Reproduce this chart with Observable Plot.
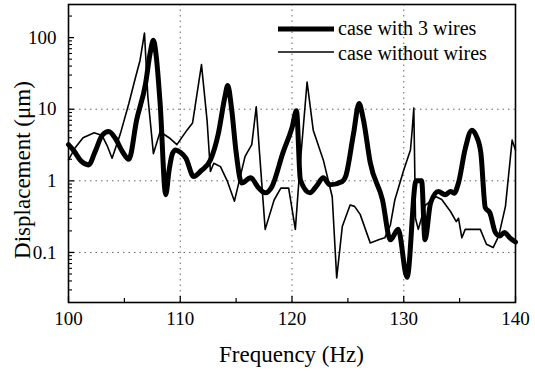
<!DOCTYPE html>
<html><head><meta charset="utf-8">
<script src="https://cdn.jsdelivr.net/npm/d3@7"></script>
<script src="https://cdn.jsdelivr.net/npm/@observablehq/plot@0.6"></script>
<style>
body{margin:0;background:#fff;}
#chart svg, #chart svg text{font-family:'Liberation Serif','Tinos','Times New Roman','DejaVu Serif','Noto Serif',serif !important;}
</style>
</head><body><div id="chart"></div>
<script>
// Series: case with 3 wires
const freqWith = [100.0,100.5,101.1,101.8,102.4,103.0,103.6,104.2,104.8,105.4,106.1,106.9,107.3,107.6,107.85,108.2,108.7,109.0,109.3,109.6,110.0,110.5,111.2,111.9,112.7,113.4,114.0,114.25,114.6,115.0,115.5,116.3,117.0,117.6,118.2,119.2,120.0,120.4,120.75,121.6,122.2,122.8,123.4,124.5,124.8,125.5,126.0,126.4,127.0,128.1,128.8,129.5,130.3,131.1,131.6,131.9,132.4,133.1,133.7,134.2,134.5,134.9,135.5,136.1,136.5,136.9,137.3,137.7,138.2,138.6,139.0,139.5,140.0];
const dispWith = [3.2,2.6,1.9,1.67,2.6,4.3,4.9,3.9,2.6,2.0,7.1,23,60,92,55,12,0.64,1.4,2.4,2.7,2.5,2.07,1.15,1.4,1.95,4.5,15,21.5,10,2.5,0.93,1.1,0.8,0.68,0.83,2.5,5.5,9.5,1.03,0.68,0.85,1.1,0.88,0.98,1.15,4.5,12,7,1.8,0.54,0.15,0.21,0.045,1.0,1.0,0.15,0.49,0.71,0.64,0.71,0.67,0.94,2.8,5.1,4.2,2.45,0.42,0.36,0.19,0.17,0.19,0.16,0.14];
// Series: case without wires
const freqWithout = [100.0,100.6,101.3,102.3,103.0,103.5,103.9,104.65,105.4,106.0,106.4,106.8,107.1,107.6,108.2,109.0,109.7,110.6,111.1,111.9,112.4,112.7,113.0,113.6,114.2,114.85,115.8,116.4,116.8,117.1,117.6,118.4,119.0,119.7,120.3,120.7,121.35,121.9,122.8,123.6,124.0,124.5,125.2,125.6,126.1,127.0,127.75,128.3,128.8,129.2,130.0,130.6,130.75,130.9,131.05,131.3,131.9,132.9,133.4,134.2,134.7,134.9,135.2,135.5,136.85,137.4,138.0,138.5,139.1,139.7,140.0];
const dispWithout = [1.96,2.9,4.0,4.7,4.3,3.0,2.07,4.6,12,28,48,116,15,2.4,4.85,4.0,3.2,5.1,6.4,42,7,1.35,1.76,1.58,1.0,0.52,2.2,3.2,10.8,2.4,0.21,0.54,0.79,0.79,0.21,1.5,24,5.1,1.96,0.6,0.044,0.23,0.46,0.44,0.34,0.136,0.15,0.16,0.24,0.54,1.42,2.7,5.0,10.4,0.3,0.21,0.45,0.6,0.55,0.37,0.27,0.3,0.16,0.21,0.21,0.13,0.117,0.17,0.44,3.7,2.7];
const seriesNames = ["case with 3 wires","case without wires"];
const xTicks = [100,110,120,130,140];
const xMinorTicks = [105,115,125,135];
const yTicks = [0.1,1,10,100];
const yTickLabels = ["0.1","1","10","100"];
const xGrid = [110,120,130];
const yGrid = [0.1,1,10];
const xTitle = "Frequency (Hz)";
const yTitle = "Displacement (\u03bcm)";

const withData = freqWith.map((f,i)=>({f, d: dispWith[i]}));
const withoutData = freqWithout.map((f,i)=>({f, d: dispWithout[i]}));
const yMinorTicks = [];
for (const dec of [0.01,0.1,1,10,100]) for (let k=2;k<=9;k++){const v=+(dec*k).toPrecision(3); if(v>0.02&&v<290) yMinorTicks.push(v);}

const W=535,H=371,mL=68,mR=20,mT=4,mB=69;
const fw=W-mL-mR, fh=H-mT-mB;

const chart = Plot.plot({
  width:W, height:H,
  marginLeft:mL, marginRight:mR, marginTop:mT, marginBottom:mB,
  x:{domain:[100,140]},
  y:{type:"log", domain:[0.02,290]},
  style:{fontSize:"19px", color:"#000", background:"#fff"},
  marks:[
    Plot.ruleX(xGrid, {x:d=>d, stroke:"#666", strokeWidth:1, strokeDasharray:"1.5,4"}),
    Plot.ruleY(yGrid, {y:d=>d, stroke:"#666", strokeWidth:1, strokeDasharray:"1.5,4"}),
    Plot.line(withoutData, {x:"f", y:"d", stroke:"#000", strokeWidth:1.6, strokeLinejoin:"round"}),
    Plot.line(withData, {x:"f", y:"d", stroke:"#000", strokeWidth:5, strokeLinejoin:"round", strokeLinecap:"round", curve:"monotone-x"}),
    Plot.tickX(xTicks, {x:d=>d, insetTop:fh-6, stroke:"#000", strokeWidth:1.3}),
    Plot.tickX(xMinorTicks, {x:d=>d, insetTop:fh-4, stroke:"#000", strokeWidth:1.2}),
    Plot.tickY(yTicks, {y:d=>d, insetRight:fw-6, stroke:"#000", strokeWidth:1.3}),
    Plot.tickY(yMinorTicks, {y:d=>d, insetRight:fw-4, stroke:"#000", strokeWidth:1.1}),
    Plot.frame({stroke:"#000", strokeWidth:1.6}),
    Plot.axisX({ticks:xTicks, tickSize:0, tickPadding:9, label:null, fontSize:19}),
    Plot.axisY({ticks:yTicks, tickFormat:(d)=>yTickLabels[yTicks.indexOf(d)], tickSize:0, tickPadding:12, label:null, fontSize:19})
  ]
});

const svg = d3.select(chart);
svg.append("text").attr("x", mL+fw/2).attr("y", 362).attr("text-anchor","middle")
  .attr("font-size",23).attr("fill","#000").text(xTitle);
svg.append("text").attr("transform","translate(30,170) rotate(-90)").attr("text-anchor","middle")
  .attr("font-size",23).attr("fill","#000").text(yTitle);
const lg = svg.append("g");
[[29,5,35],[52,1.6,60]].forEach(([y,w,ty],i)=>{
  lg.append("line").attr("x1",278).attr("x2",334).attr("y1",y).attr("y2",y).attr("stroke","#000").attr("stroke-width",w);
  lg.append("text").attr("x",338).attr("y",ty).attr("text-anchor","start")
    .attr("font-size",20).attr("fill","#000").text(seriesNames[i]);
});
document.getElementById("chart").appendChild(chart);
</script>
</body></html>
